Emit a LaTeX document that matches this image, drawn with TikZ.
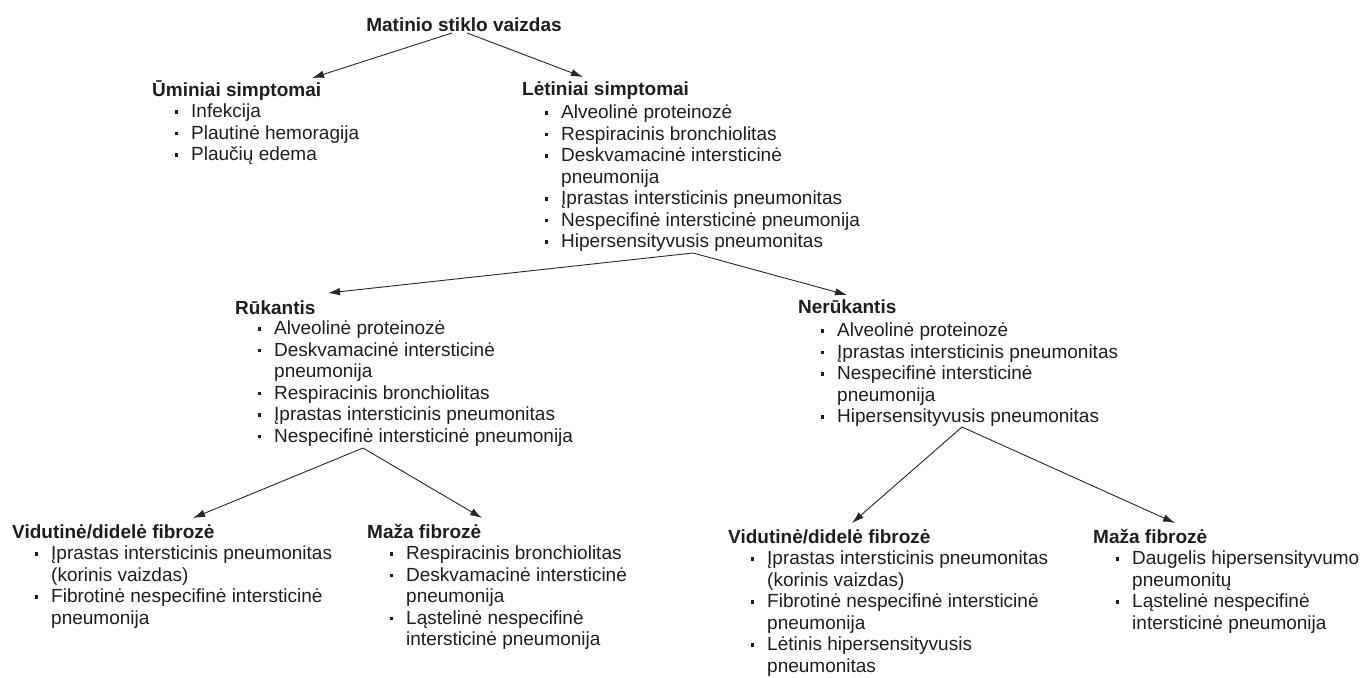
\documentclass[tikz,border=0pt]{standalone}
\usepackage{fontspec}
\setmainfont{Liberation Sans}
\usepackage{array}
\usetikzlibrary{arrows.meta}
\definecolor{txt}{HTML}{1E1E1E}
\definecolor{lin}{HTML}{262626}
\newcommand{\bl}{\hspace*{1pt}\raisebox{4pt}{\rule{3.2pt}{3.2pt}}}
\newcommand{\itemlist}[1]{\begin{tabular}[t]{@{}p{17pt}@{}l@{}}#1\end{tabular}}
\begin{document}
\begin{tikzpicture}[x=1pt,y=-1pt,
  every node/.style={text=txt, font=\fontsize{19}{21.5}\selectfont},
  hdr/.style={anchor=base west, inner sep=0pt, font=\fontsize{19}{21.5}\selectfont\bfseries},
  lst/.style={anchor=base west, inner sep=0pt},
  arr/.style={draw=lin, line width=0.9pt, -{Latex[length=12pt,width=7.5pt]}}]
\useasboundingbox (0,0) rectangle (1364,677);

% root
\node[hdr, anchor=base] (root) at (464,31.5) {Matinio stiklo vaizdas};

% level 1
\node[hdr] (um) at (152,96.5) {Ūminiai simptomai};
\node[lst] (umL) at (174,117.5) {\itemlist{\bl & Infekcija\\ \bl & Plautinė hemoragija\\ \bl & Plaučių edema}};

\node[hdr] (let) at (522,95.5) {Lėtiniai simptomai};
\node[lst] (letL) at (544,118.5) {\itemlist{\bl & Alveolinė proteinozė\\ \bl & Respiracinis bronchiolitas\\ \bl & Deskvamacinė intersticinė\\ & pneumonija\\ \bl & Įprastas intersticinis pneumonitas\\ \bl & Nespecifinė intersticinė pneumonija\\ \bl & Hipersensityvusis pneumonitas}};

% level 2
\node[hdr] (ruk) at (235,314.5) {Rūkantis};
\node[lst] (rukL) at (257,334.5) {\itemlist{\bl & Alveolinė proteinozė\\ \bl & Deskvamacinė intersticinė\\ & pneumonija\\ \bl & Respiracinis bronchiolitas\\ \bl & Įprastas intersticinis pneumonitas\\ \bl & Nespecifinė intersticinė pneumonija}};

\node[hdr] (neruk) at (798,313.5) {Nerūkantis};
\node[lst] (nerukL) at (820,336.5) {\itemlist{\bl & Alveolinė proteinozė\\ \bl & Įprastas intersticinis pneumonitas\\ \bl & Nespecifinė intersticinė\\ & pneumonija\\ \bl & Hipersensityvusis pneumonitas}};

% level 3
\node[hdr] (vl) at (12,538.5) {Vidutinė/didelė fibrozė};
\node[lst] (vlL) at (34,559.5) {\itemlist{\bl & Įprastas intersticinis pneumonitas\\ & (korinis vaizdas)\\ \bl & Fibrotinė nespecifinė intersticinė\\ & pneumonija}};

\node[hdr] (ml) at (367,538.5) {Maža fibrozė};
\node[lst] (mlL) at (389,559.5) {\itemlist{\bl & Respiracinis bronchiolitas\\ \bl & Deskvamacinė intersticinė\\ & pneumonija\\ \bl & Ląstelinė nespecifinė\\ & intersticinė pneumonija}};

\node[hdr] (vr) at (728,543.5) {Vidutinė/didelė fibrozė};
\node[lst] (vrL) at (750,564.5) {\itemlist{\bl & Įprastas intersticinis pneumonitas\\ & (korinis vaizdas)\\ \bl & Fibrotinė nespecifinė intersticinė\\ & pneumonija\\ \bl & Lėtinis hipersensityvusis\\ & pneumonitas}};

\node[hdr] (mr) at (1093,543.5) {Maža fibrozė};
\node[lst] (mrL) at (1115,564.5) {\itemlist{\bl & Daugelis hipersensityvumo\\ & pneumonitų\\ \bl & Ląstelinė nespecifinė\\ & intersticinė pneumonija}};

% connector end points
\coordinate (rootA) at (452,33);
\coordinate (rootB) at (467,33);
\coordinate (umIn) at (312,78);
\coordinate (letIn) at (583,77);
\coordinate (letOut) at (693,253);
\coordinate (rukIn) at (328,293);
\coordinate (nerukIn) at (847,295);
\coordinate (rukOut) at (363,448);
\coordinate (vlIn) at (193,518);
\coordinate (mlIn) at (482,518);
\coordinate (nerukOut) at (962,427);
\coordinate (vrIn) at (852,523);
\coordinate (mrIn) at (1175,523);

\draw[arr] (rootA) -- (umIn);
\draw[arr] (rootB) -- (letIn);
\draw[arr] (letOut) -- (rukIn);
\draw[arr] (letOut) -- (nerukIn);
\draw[arr] (rukOut) -- (vlIn);
\draw[arr] (rukOut) -- (mlIn);
\draw[arr] (nerukOut) -- (vrIn);
\draw[arr] (nerukOut) -- (mrIn);
\end{tikzpicture}
\end{document}
